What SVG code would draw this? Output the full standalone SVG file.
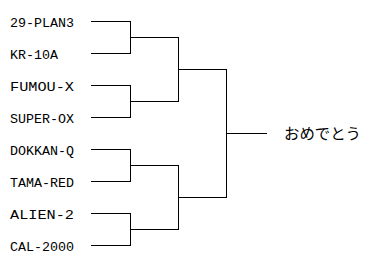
<svg xmlns="http://www.w3.org/2000/svg" width="370" height="262" viewBox="0 0 370 262">
<style>
.l{fill:none;stroke:#000;stroke-width:1;shape-rendering:crispEdges}
.t{font-family:"Liberation Mono","DejaVu Sans Mono",monospace;font-size:13.5px;fill:#000}
.j{font-family:"Noto Sans CJK JP","Noto Sans CJK SC",sans-serif;font-size:15px;fill:#000}
</style>
<rect width="370" height="262" fill="#fff"/>
<g id="n1"><text class="t" x="10" y="26.5" textLength="64" lengthAdjust="spacingAndGlyphs">29-PLAN3</text></g>
<g id="n2"><text class="t" x="10" y="58.5" textLength="48" lengthAdjust="spacingAndGlyphs">KR-10A</text></g>
<g id="n3"><text class="t" x="10" y="90.5" textLength="64" lengthAdjust="spacingAndGlyphs">FUMOU-X</text></g>
<g id="n4"><text class="t" x="10" y="122.5" textLength="64" lengthAdjust="spacingAndGlyphs">SUPER-OX</text></g>
<g id="n5"><text class="t" x="10" y="154.5" textLength="64" lengthAdjust="spacingAndGlyphs">DOKKAN-Q</text></g>
<g id="n6"><text class="t" x="10" y="186.5" textLength="64" lengthAdjust="spacingAndGlyphs">TAMA-RED</text></g>
<g id="n7"><text class="t" x="10" y="218.5" textLength="64" lengthAdjust="spacingAndGlyphs">ALIEN-2</text></g>
<g id="n8"><text class="t" x="10" y="250.5" textLength="64" lengthAdjust="spacingAndGlyphs">CAL-2000</text></g>
<g id="winner"><text class="j" x="284" y="139" textLength="77" lengthAdjust="spacingAndGlyphs">おめでとう</text></g>
<g id="connectors">
<path class="l" d="M91 21.5H130.5V53.5H91M130.5 37.5H178.5"/>
<path class="l" d="M91 85.5H130.5V117.5H91M130.5 101.5H178.5"/>
<path class="l" d="M91 149.5H130.5V181.5H91M130.5 165.5H178.5"/>
<path class="l" d="M91 213.5H130.5V245.5H91M130.5 229.5H178.5"/>
<path class="l" d="M178.5 37.5V101.5M178.5 69.5H226.5"/>
<path class="l" d="M178.5 165.5V229.5M178.5 197.5H226.5"/>
<path class="l" d="M226.5 69.5V197.5M226.5 133.5H267"/>
</g>
</svg>
